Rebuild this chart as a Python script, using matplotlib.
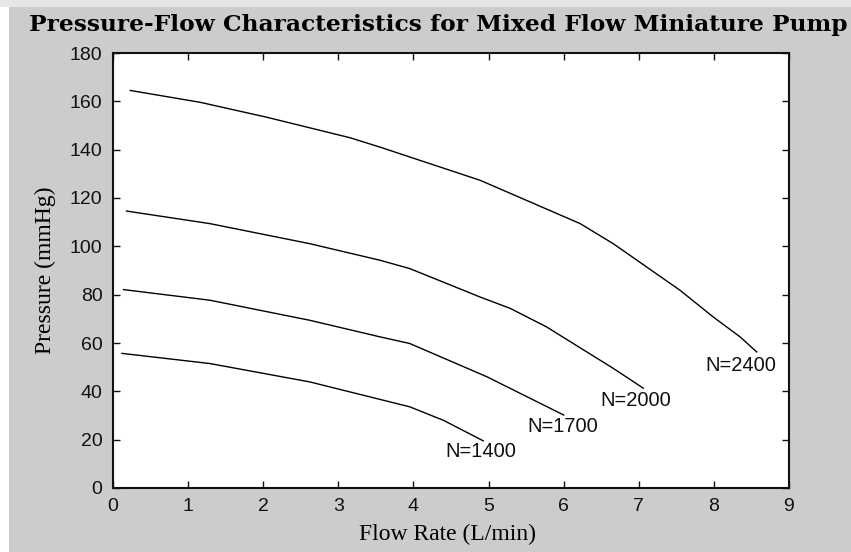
import matplotlib
matplotlib.use("Agg")
import matplotlib.pyplot as plt
from matplotlib.patches import Rectangle

# Data
flow_2400 = [0.23, 1.16, 2.05, 3.16, 3.56, 4.89, 6.22, 6.66, 7.55, 7.99, 8.35, 8.57]
pres_2400 = [164.5, 159.6, 153.4, 144.9, 141.0, 127.3, 109.4, 101.1, 81.8, 70.8, 62.5, 56.3]

flow_2000 = [0.18, 1.29, 2.62, 3.56, 3.95, 4.89, 5.29, 5.77, 6.66, 7.06]
pres_2000 = [114.6, 109.4, 101.1, 94.2, 90.8, 79.0, 74.3, 66.7, 49.5, 41.3]

flow_1700 = [0.14, 1.29, 2.62, 3.56, 3.95, 4.98, 5.29, 6.0]
pres_1700 = [82.1, 77.7, 69.4, 62.5, 59.8, 46.0, 41.2, 30.2]

flow_1400 = [0.12, 1.29, 2.62, 3.95, 4.40, 4.93]
pres_1400 = [55.7, 51.5, 43.9, 33.6, 28.0, 19.5]

labels = ["N=2400", "N=2000", "N=1700", "N=1400"]
label_x = [7.89, 6.49, 5.52, 4.42]
label_y = [50.8, 36.4, 25.3, 15.0]

xticks = list(range(0, 10))
yticks = list(range(0, 181, 20))

bg = "#cccccc"
fig = plt.figure(figsize=(8.51, 5.52), dpi=100, facecolor=bg)
# light border strips seen on the reference screenshot
fig.patches.append(Rectangle((0, 0), 9 / 851, 1, transform=fig.transFigure,
                             facecolor="white", edgecolor="none", zorder=-1))
fig.patches.append(Rectangle((0, 1 - 7 / 552), 1, 7 / 552, transform=fig.transFigure,
                             facecolor="#e6e6e6", edgecolor="none", zorder=-1))

ax = fig.add_axes([113 / 851, 1 - 488 / 552, 676 / 851, 435 / 552])
ax.set_facecolor("white")

for fx, py in [(flow_2400, pres_2400), (flow_2000, pres_2000),
               (flow_1700, pres_1700), (flow_1400, pres_1400)]:
    ax.plot(fx, py, color="black", linewidth=1.0)

for t, lx, ly in zip(labels, label_x, label_y):
    ax.text(lx, ly, t, fontsize=14.5, family="Liberation Sans", color="#111111",
            ha="left", va="center")

ax.set_xlim(0, 9)
ax.set_ylim(0, 180)
ax.set_xticks(xticks)
ax.set_yticks(yticks)
ax.tick_params(direction="in", length=5, width=1, top=True, right=True,
               labelsize=14, colors="#111111")
ax.tick_params(axis="x", pad=7)
ax.tick_params(axis="y", pad=7.5)
for lab in ax.get_xticklabels() + ax.get_yticklabels():
    lab.set_family("Liberation Sans")
for s in ax.spines.values():
    s.set_linewidth(1.5)
    s.set_color("#111111")

ax.set_xlabel("Flow Rate (L/min)", family="Liberation Serif", fontsize=17, va="top")
ax.xaxis.set_label_coords(0.495, -0.082)
ax.set_ylabel("Pressure (mmHg)", family="Liberation Serif", fontsize=17)
ax.yaxis.set_label_coords(-0.084, 0.5)
ax.set_title("Pressure-Flow Characteristics for Mixed Flow Miniature Pump",
             family="DejaVu Serif", fontweight="bold", fontsize=16.8, pad=16)
ax.title.set_x(0.481)

fig.savefig("out.png", dpi=100, facecolor=bg)
